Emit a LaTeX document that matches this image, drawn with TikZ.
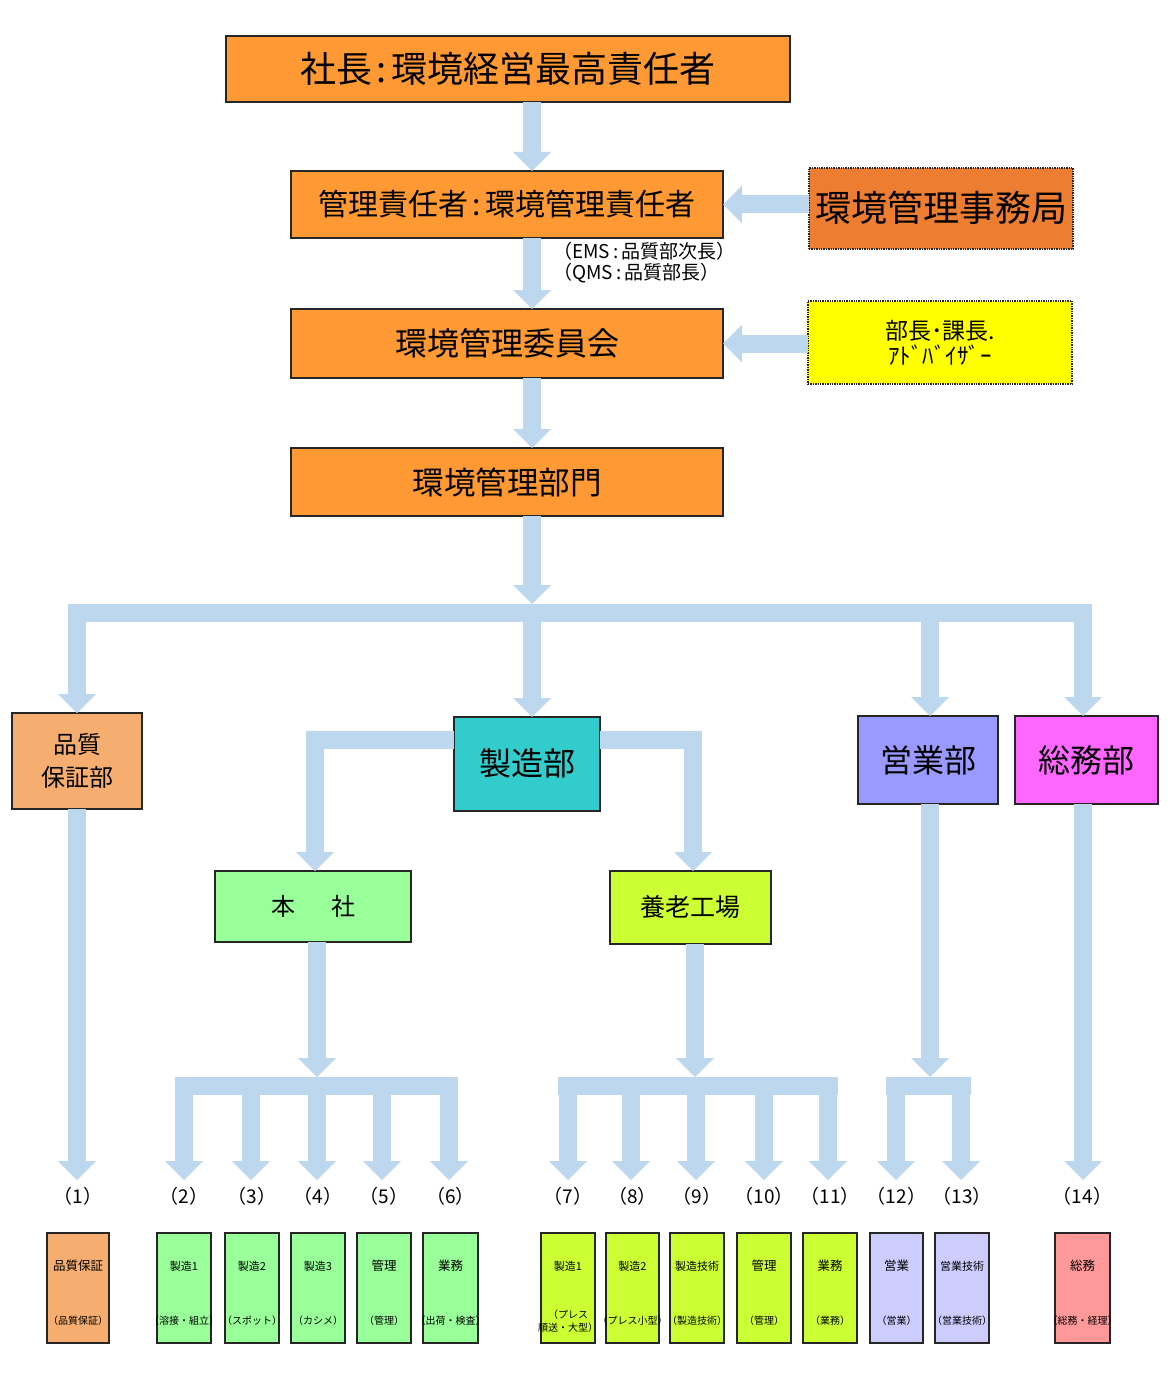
\documentclass[tikz,border=0pt]{standalone}
\usepackage{fontspec}
\setmainfont{Noto Sans CJK JP}
\usetikzlibrary{arrows.meta}
\definecolor{arr}{HTML}{BDD7EE}
\definecolor{org}{HTML}{FF9933}
\definecolor{orgd}{HTML}{ED7D31}
\definecolor{ylw}{HTML}{FFFF00}
\definecolor{qac}{HTML}{F5AE6F}
\definecolor{teal}{HTML}{33CCCC}
\definecolor{vio}{HTML}{9999FF}
\definecolor{mag}{HTML}{FF66FF}
\definecolor{grn}{HTML}{99FF99}
\definecolor{lim}{HTML}{CCFF33}
\definecolor{lav}{HTML}{CCCCFF}
\definecolor{pnk}{HTML}{FF9999}
\newcommand{\myfs}[1]{\fontsize{#1}{#1}\selectfont}
\newcommand{\smallunit}[8]{%
  \node[sbox, fill=#3, minimum width=#8pt] (#1) at (#2,1288) {};
  \node[font=\myfs{#4}, inner sep=0pt] at ([yshift=22pt]#1.center) {#5};
  \node[font=\fontsize{10}{13}\selectfont, align=center, inner sep=0pt] at ([yshift=-33pt]#1.center) {#6};
  \node[font=\myfs{19}, inner sep=0pt] (n#1) at (#2,1196) {#7};
}
\begin{document}
\begin{tikzpicture}[x=1pt,y=-1pt,
  box/.style={draw=black!85, line width=1.4pt, inner sep=0pt, outer sep=0pt, align=center},
  dbox/.style={box, densely dotted, line width=1.1pt},
  sbox/.style={box, minimum height=110pt},
  blk/.style={draw=arr, line width=18pt, line join=miter, -{Triangle[width=38pt,length=19pt,line width=0pt]}},
  barl/.style={draw=arr, line width=18pt, line join=miter},
]
\useasboundingbox (0,0) rectangle (1170,1380);

% main chain
\node[box, fill=org, minimum width=564pt, minimum height=66pt, font=\myfs{36}] (pres) at (508,69) {社長\hspace{5pt}:\hspace{5pt}環境経営最高責任者};
\node[box, fill=org, minimum width=432pt, minimum height=67pt, font=\myfs{30}] (mgr) at (507,204.5) {管理責任者\hspace{4pt}:\hspace{4pt}環境管理責任者};
\node[dbox, fill=orgd, minimum width=264pt, minimum height=81pt, font=\myfs{36}] (sec) at (941,208.5) {\raisebox{5pt}{環境管理事務局}};
\node[anchor=west, font=\myfs{19}, inner sep=0pt] (note1) at (553,251) {（EMS\,:\,品質部次長）};
\node[anchor=west, font=\myfs{19}, inner sep=0pt] (note2) at (553,273) {（QMS\,:\,品質部長）};
\node[box, fill=org, minimum width=432pt, minimum height=69pt, font=\myfs{32}] (com) at (507,343.5) {環境管理委員会};
\node[dbox, fill=ylw, minimum width=264pt, minimum height=83pt, font=\fontsize{23}{25}\selectfont] (adv) at (940,342.5) {部長･課長.\\ｱﾄﾞﾊﾞｲｻﾞｰ};
\node[box, fill=org, minimum width=432pt, minimum height=68pt, font=\myfs{31.5}] (dept) at (507,482) {環境管理部門};

% departments
\node[box, fill=qac, minimum width=130pt, minimum height=96pt, font=\fontsize{24}{33}\selectfont] (qa) at (77,761) {品質\\保証部};
\node[box, fill=teal, minimum width=146pt, minimum height=94pt, font=\myfs{32}] (mfg) at (527,764) {\raisebox{4pt}{製造部}};
\node[box, fill=vio, minimum width=140pt, minimum height=88pt, font=\myfs{32}] (sales) at (928,760) {営業部};
\node[box, fill=mag, minimum width=143pt, minimum height=88pt, font=\myfs{32}] (ga) at (1086.5,760) {総務部};
\node[box, fill=grn, minimum width=196pt, minimum height=71pt, font=\myfs{24}] (hq) at (313,906.5) {本\hspace{36pt}社};
\node[box, fill=lim, minimum width=161pt, minimum height=73pt, font=\myfs{25}] (yoro) at (690.5,907.5) {養老工場};

% bottom units
\smallunit{u1}{78}{qac}{12.5}{品質保証}{（品質保証）}{（1）}{62}
\smallunit{u2}{184}{grn}{11}{製造1}{（溶接・組立）}{（2）}{54}
\smallunit{u3}{252}{grn}{11}{製造2}{（スポット）}{（3）}{54}
\smallunit{u4}{318}{grn}{11}{製造3}{（カシメ）}{（4）}{54}
\smallunit{u5}{384}{grn}{12.5}{管理}{（管理）}{（5）}{54}
\smallunit{u6}{450.5}{grn}{12.5}{業務}{（出荷・検査）}{（6）}{55}
\smallunit{u7}{568}{lim}{11}{製造1}{（プレス\\順送・大型）}{（7）}{54}
\smallunit{u8}{632.5}{lim}{11}{製造2}{（プレス小型）}{（8）}{53}
\smallunit{u9}{697}{lim}{11}{製造技術}{（製造技術）}{（9）}{54}
\smallunit{u10}{764}{lim}{12.5}{管理}{（管理）}{（10）}{54}
\smallunit{u11}{830}{lim}{12.5}{業務}{（業務）}{（11）}{54}
\smallunit{u12}{896.5}{lav}{12.5}{営業}{（営業）}{（12）}{53}
\smallunit{u13}{962}{lav}{11}{営業技術}{（営業技術）}{（13）}{54}
\smallunit{u14}{1082.5}{pnk}{12.5}{総務}{（総務・経理）}{（14）}{55}

% connectors: main chain
\coordinate (T) at (532,0);
\draw[blk] (pres.south -| T) -- (mgr.north -| T);
\draw[blk] (sec.west |- mgr.east) -- (mgr.east);
\draw[blk] (mgr.south -| T) -- (com.north -| T);
\draw[blk] (adv.west |- com.east) -- (com.east);
\draw[blk] (com.south -| T) -- (dept.north -| T);

% main distribution bar
\coordinate (bartop) at (532,604);
\coordinate (barL) at (68,613);
\coordinate (barR) at (1092,613);
\draw[blk] (dept.south -| T) -- (bartop);
\draw[barl] (barL) -- (barR);
\coordinate (lq) at (77,613);
\coordinate (lm) at (532,613);
\coordinate (ls) at (930,613);
\coordinate (lg) at (1083,613);
\draw[blk] (lq) -- (lq |- qa.north);
\draw[blk] (lm) -- (lm |- mfg.north);
\draw[blk] (ls) -- (ls |- sales.north);
\draw[blk] (lg) -- (lg |- ga.north);

% manufacturing branches
\coordinate (my) at (0,740);
\coordinate (hx) at (315,0);
\coordinate (yx) at (693,0);
\draw[blk] (mfg.west |- my) -| (hq.north -| hx);
\draw[blk] (mfg.east |- my) -| (yoro.north -| yx);

% group bars
\coordinate (g1) at (317,1077);
\coordinate (g2) at (695,1077);
\coordinate (g3) at (930,1077);
\draw[blk] (hq.south -| g1) -- (g1);
\draw[blk] (yoro.south -| g2) -- (g2);
\draw[blk] (sales.south -| g3) -- (g3);
\coordinate (g1L) at (175,1086); \coordinate (g1R) at (458,1086);
\coordinate (g2L) at (558,1086); \coordinate (g2R) at (838,1086);
\coordinate (g3L) at (886,1086); \coordinate (g3R) at (971,1086);
\draw[barl] (g1L) -- (g1R);
\draw[barl] (g2L) -- (g2R);
\draw[barl] (g3L) -- (g3R);
\foreach \i/\x in {2/184,3/251,4/317,5/382,6/449,7/568,8/631,9/696,10/764,11/828,12/896,13/961}{
  \coordinate (s\i) at (\x,1086);
  \coordinate (t\i) at (\x,1180);
  \draw[blk] (s\i) -- (t\i);
}
\coordinate (t1) at (77,1180);
\coordinate (t14) at (1083,1180);
\draw[blk] (qa.south -| t1) -- (t1);
\draw[blk] (ga.south -| t14) -- (t14);
\end{tikzpicture}
\end{document}
